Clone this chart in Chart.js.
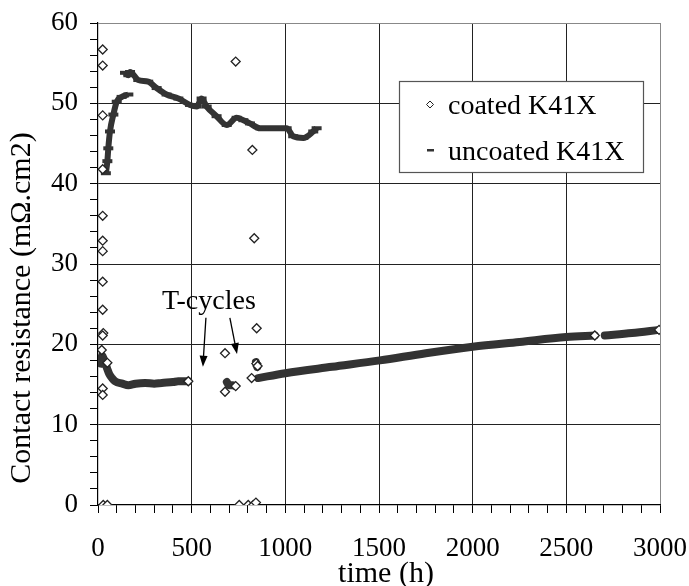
<!DOCTYPE html>
<html>
<head>
<meta charset="utf-8">
<script src="https://cdn.jsdelivr.net/npm/chart.js@4.4.0/dist/chart.umd.min.js"></script>
<style>
  body { margin: 0; background: #fff; }
</style>
</head>
<body>
<canvas id="chart" width="689" height="586"></canvas>
<script>
// values: time in h, resistance in mOhm.cm2

// coated K41X - single diamonds
const coatedTime = [25, 25, 25, 25, 25, 25, 25, 25, 25, 28, 25, 20, 25, 25, 50, 28, 50, 482,
                    678, 678, 735, 735, 824, 834, 847, 845, 852, 820, 754, 802, 829, 843, 2652, 2995];
const coatedRes  = [56.7, 54.7, 48.5, 41.8, 36.0, 32.9, 31.6, 27.8, 24.3, 21.4, 21.1, 19.3, 14.5, 13.7, 17.7, 0, 0, 15.4,
                    18.9, 14.1, 14.8, 55.2, 44.2, 33.2, 22.0, 17.6, 17.3, 15.8, 0, 0, 0, 0.3, 21.1, 21.8];

// coated K41X - dense runs of points (drawn as a band)
const coatedRunA_t = [15, 22, 30, 40, 50, 60, 75, 91, 130, 162, 200, 251, 300, 340, 400, 428, 482];
const coatedRunA_v = [17.6, 18.6, 18.2, 17.6, 16.9, 16.3, 15.8, 15.4, 15.1, 14.9, 15.1, 15.2, 15.1, 15.2, 15.3, 15.4, 15.4];
const coatedRunB_t = [688, 700, 720, 731];
const coatedRunB_v = [15.3, 14.9, 14.9, 14.8];
const coatedRunC_t = [843, 850];
const coatedRunC_v = [17.8, 17.2];
const coatedRunD_t = [855, 1000, 1250, 1505, 1750, 2000, 2250, 2500, 2652];
const coatedRunD_v = [15.8, 16.4, 17.2, 18.0, 18.9, 19.7, 20.3, 20.9, 21.1];
const coatedRunE_t = [2705, 2850, 2995];
const coatedRunE_v = [21.1, 21.4, 21.8];

// uncoated K41X
const uncoatedRiseT = [42, 50, 55, 64, 82, 100, 126, 162];
const uncoatedRiseV = [41.3, 42.8, 44.4, 46.5, 48.6, 50.2, 50.8, 51.1];
const uncoatedT = [144, 162, 171, 215, 268, 313, 366, 429, 491, 527, 553, 580, 633, 687, 740, 776, 811,
                   865, 936, 1007, 1042, 1096, 1149, 1167];
const uncoatedV = [53.8, 53.5, 53.9, 52.9, 52.7, 51.9, 51.1, 50.6, 49.8, 49.6, 50.6, 49.6, 48.4, 47.3, 48.2, 47.9, 47.5,
                   46.9, 46.9, 46.9, 45.9, 45.7, 46.5, 46.9];

// axis ticks
const xMax = 3000, xStep = 100, xLabelEvery = 500;
const yMax = 60, yStep = 2, yLabelEvery = 10;

const xTitle = 'time (h)';
const yTitle = 'Contact resistance (mΩ.cm2)';

// annotation (data coordinates)
const noteText = 'T-cycles';
const notePos = [592, 24.4];
const noteArrows = [
  { from: [576, 23.3], to: [560, 17.2] },
  { from: [704, 23.3], to: [742, 18.8] }
];

const legendLabels = ['coated K41X', 'uncoated K41X'];

const FONT = 'Liberation Serif, Times New Roman, serif';
const INK = '#333';
const GRID = '#222';

const pts = (xs, ys) => xs.map((x, i) => ({ x: x, y: ys[i] }));

function band(xs, ys) {
    return {
        data: pts(xs, ys),
        showLine: true,
        borderColor: INK,
        borderWidth: 8,
        borderCapStyle: 'round',
        cubicInterpolationMode: 'monotone',
        pointRadius: 0,
        order: 2
    };
}

function uncoated(xs, ys) {
    return {
        data: pts(xs, ys),
        showLine: true,
        borderColor: INK,
        backgroundColor: INK,
        borderWidth: 6,
        cubicInterpolationMode: 'monotone',
        pointStyle: 'line',
        pointRadius: 5,
        pointBorderWidth: 4,
        order: 3
    };
}

// legend box, T-cycles note and axis titles
const extras = {
    id: 'extras',
    afterDatasetsDraw(chart) {
        const ctx = chart.ctx;
        const xs = chart.scales.x, ys = chart.scales.y;
        ctx.save();

        // note
        ctx.font = '28px ' + FONT;
        ctx.fillStyle = '#000';
        ctx.textAlign = 'center';
        ctx.textBaseline = 'alphabetic';
        ctx.fillText(noteText, xs.getPixelForValue(notePos[0]), ys.getPixelForValue(notePos[1]));

        ctx.strokeStyle = '#000';
        ctx.lineWidth = 1.3;
        noteArrows.forEach(a => {
            const x1 = xs.getPixelForValue(a.from[0]), y1 = ys.getPixelForValue(a.from[1]);
            const x2 = xs.getPixelForValue(a.to[0]), y2 = ys.getPixelForValue(a.to[1]);
            const ang = Math.atan2(y2 - y1, x2 - x1);
            ctx.beginPath();
            ctx.moveTo(x1, y1);
            ctx.lineTo(x2 - 8 * Math.cos(ang), y2 - 8 * Math.sin(ang));
            ctx.stroke();
            ctx.beginPath();
            ctx.moveTo(x2, y2);
            ctx.lineTo(x2 - 11 * Math.cos(ang) + 4 * Math.sin(ang), y2 - 11 * Math.sin(ang) - 4 * Math.cos(ang));
            ctx.lineTo(x2 - 11 * Math.cos(ang) - 4 * Math.sin(ang), y2 - 11 * Math.sin(ang) + 4 * Math.cos(ang));
            ctx.closePath();
            ctx.fillStyle = '#000';
            ctx.fill();
        });

        // legend
        const bx = 399, by = 81, bw = 244, bh = 91;
        ctx.fillStyle = '#fff';
        ctx.fillRect(bx, by, bw, bh);
        ctx.strokeStyle = '#555';
        ctx.lineWidth = 1.2;
        ctx.strokeRect(bx + 0.5, by + 0.5, bw, bh);

        ctx.beginPath();
        ctx.moveTo(430, 101); ctx.lineTo(433.5, 104.5); ctx.lineTo(430, 108); ctx.lineTo(426.5, 104.5);
        ctx.closePath();
        ctx.lineWidth = 1;
        ctx.strokeStyle = '#222';
        ctx.stroke();
        ctx.fillStyle = INK;
        ctx.fillRect(427, 149, 7, 2.5);

        ctx.font = '28px ' + FONT;
        ctx.fillStyle = '#000';
        ctx.textAlign = 'left';
        ctx.fillText(legendLabels[0], 448, 114);
        ctx.fillText(legendLabels[1], 448, 160);

        // axis titles
        ctx.font = '30px ' + FONT;
        ctx.textAlign = 'center';
        ctx.textBaseline = 'middle';
        ctx.fillText(xTitle, 386, 574);
        ctx.translate(22, 308);
        ctx.rotate(-Math.PI / 2);
        ctx.fillText(yTitle, 0, 0);
        ctx.restore();
    }
};

new Chart(document.getElementById('chart'), {
    type: 'scatter',
    data: {
        datasets: [
            {
                label: legendLabels[0],
                data: pts(coatedTime, coatedRes),
                pointStyle: 'rectRot',
                pointRadius: 4.5,
                pointBorderWidth: 1.3,
                borderColor: '#222',
                backgroundColor: '#fff',
                order: 1
            },
            band(coatedRunA_t, coatedRunA_v),
            band(coatedRunB_t, coatedRunB_v),
            band(coatedRunC_t, coatedRunC_v),
            band(coatedRunD_t, coatedRunD_v),
            band(coatedRunE_t, coatedRunE_v),
            uncoated(uncoatedRiseT, uncoatedRiseV),
            uncoated(uncoatedT, uncoatedV)
        ]
    },
    options: {
        responsive: false,
        animation: false,
        layout: { padding: { top: 23, right: 29, left: 0, bottom: 0 } },
        plugins: {
            legend: { display: false },
            tooltip: { enabled: false }
        },
        scales: {
            x: {
                type: 'linear',
                min: 0,
                max: xMax,
                afterFit: s => { s.height = 81; s.paddingLeft = 0; s.paddingRight = 0; },
                ticks: {
                    stepSize: xStep,
                    autoSkip: false,
                    maxRotation: 0,
                    padding: 20,
                    color: '#000',
                    font: { family: FONT, size: 27 },
                    callback: v => (v % xLabelEvery === 0 ? v : '')
                },
                grid: {
                    color: c => (c.tick.value % xLabelEvery !== 0 || c.tick.value === 0) ? 'rgba(0,0,0,0)'
                        : (c.tick.value === xMax ? '#888' : GRID),
                    tickColor: '#000',
                    tickLength: 8
                },
                border: { color: '#000', width: 1.2 }
            },
            y: {
                min: 0,
                max: yMax,
                afterFit: s => { s.width = 98; s.paddingTop = 0; s.paddingBottom = 0; },
                ticks: {
                    stepSize: yStep,
                    autoSkip: false,
                    padding: 12,
                    color: '#000',
                    font: { family: FONT, size: 27 },
                    callback: v => (v % yLabelEvery === 0 ? v : '')
                },
                grid: {
                    color: c => (c.tick.value % yLabelEvery !== 0 || c.tick.value === 0) ? 'rgba(0,0,0,0)'
                        : (c.tick.value === yMax ? '#888' : GRID),
                    tickColor: '#000',
                    tickLength: 8
                },
                border: { color: '#000', width: 1.2 }
            }
        }
    },
    plugins: [extras]
});
</script>
</body>
</html>
